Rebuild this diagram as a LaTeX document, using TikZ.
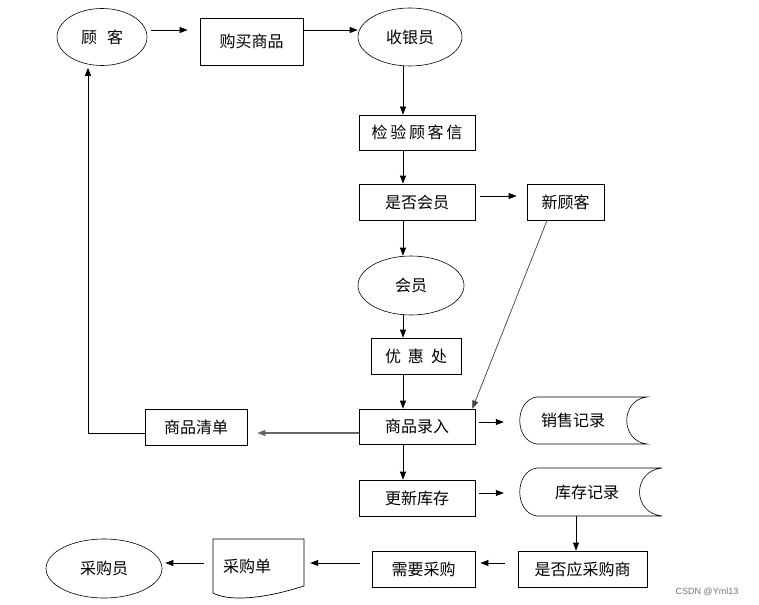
\documentclass[tikz,border=0pt]{standalone}
\usepackage{fontspec}
\setmainfont{Noto Sans CJK SC}
\newfontfamily\markfont{Liberation Sans}
\usetikzlibrary{shapes.geometric,arrows.meta}

\begin{document}
\begin{tikzpicture}[x=1pt, y=-1pt,
    font=\fontsize{16}{19}\selectfont,
    box/.style={draw, rectangle, inner sep=0pt, line width=0.7pt},
    oval/.style={draw, ellipse, inner sep=0pt, line width=0.6pt},
    flow/.style={-{Triangle[length=8pt,width=6pt]}, line width=0.7pt}]
    \useasboundingbox (0,0) rectangle (759,604);

    \node[oval, minimum width=90pt, minimum height=57pt] (guke) at (102,37) {顾\hspace{10pt}客};
    \node[box, minimum width=103pt, minimum height=47pt] (goumai) at (251.5,41.5) {购买商品};
    \node[oval, minimum width=104pt, minimum height=58pt] (shouyin) at (410,37) {收银员};
    \node[box, minimum width=116pt, minimum height=35pt] (jianyan) at (417,132.5) {检\,验\,顾\,客\,信};
    \node[box, minimum width=116pt, minimum height=36pt] (shifou) at (417,202) {是否会员};
    \node[box, minimum width=77pt, minimum height=36pt] (xinke) at (565.5,202) {新顾客};
    \node[oval, minimum width=106pt, minimum height=59pt] (huiyuan) at (411,285.5) {会员};
    \node[box, minimum width=90pt, minimum height=36pt] (youhui) at (416,356) {优\hspace{7pt}惠\hspace{7pt}处};
    \node[box, minimum width=116pt, minimum height=35pt] (luru) at (417,426.5) {商品录入};
    \node[box, minimum width=102pt, minimum height=36pt] (qingdan) at (196,427) {商品清单};
    \node[minimum width=106pt, minimum height=47pt, inner sep=0pt] (xiaoshou) at (573,420.5) {销售记录};
    \node[box, minimum width=116pt, minimum height=36pt] (gengxin) at (417,498) {更新库存};
    \node[minimum width=134pt, minimum height=48pt, inner sep=0pt] (kucun) at (587,492) {库存记录};
    \node[box, minimum width=129pt, minimum height=36pt] (yingcai) at (582.5,569) {是否应采购商};
    \node[box, minimum width=103pt, minimum height=36pt] (xuyao) at (423.5,569) {需要采购};
    \node[text width=71pt, inner xsep=10pt, inner ysep=0pt, minimum height=54pt, align=left] (caidan) at (258.5,566) {采购单};
    \node[oval, minimum width=116pt, minimum height=59pt] (caiyuan) at (104,568.5) {采购员};
    \node[font=\markfont\fontsize{9}{11}\selectfont, text=black!55] (mark) at (707,592) {CSDN @Yml13};

    % record and document outlines
    \draw[line width=0.6pt] (537,397) -- (647,397) .. controls (620,400) and (620,441) .. (647,444)
        -- (537,444) .. controls (514,441) and (514,400) .. (537,397);
    \draw[line width=0.6pt] (537,468) -- (662,468) .. controls (632,471) and (632,513) .. (662,516)
        -- (537,516) .. controls (514,513) and (514,471) .. (537,468);
    \draw[line width=0.7pt] (213,539) -- (304,539) -- (304,586) .. controls (260,600) and (228,601) .. (213,593) -- cycle;

    \coordinate (toprow) at (0,30);
    \coordinate (col) at (403,0);
    \coordinate (stockcol) at (576,0);
    \coordinate (botrow) at (0,563);

    \draw[flow, shorten <=4pt, shorten >=12pt] (guke.east |- toprow) -- (goumai.west |- toprow);
    \draw[flow] (goumai.east |- toprow) -- (shouyin.west |- toprow);
    \foreach \a/\b in {shouyin/jianyan, jianyan/shifou, shifou/huiyuan, huiyuan/youhui, youhui/luru, luru/gengxin}
        \draw[flow] (col |- \a.south) -- (col |- \b.north);
    \draw[flow, shorten <=5pt, shorten >=10pt] ([yshift=6pt]shifou.east) -- ([yshift=6pt]xinke.west);
    \draw[flow, draw=black!75] ([xshift=-18.5pt]xinke.south) -- ([xshift=-3pt]luru.north east);
    \draw[flow, shorten <=4pt, shorten >=16pt] ([yshift=4.5pt]luru.east) -- ([yshift=4.5pt]luru.east -| xiaoshou.west);
    \draw[flow, shorten <=4pt, shorten >=16pt] ([yshift=5pt]gengxin.east) -- ([yshift=5pt]gengxin.east -| kucun.west);
    \draw[flow, line width=1.2pt, draw=black!60, shorten >=10pt] ([yshift=-6.5pt]luru.west) -- ([yshift=-6.5pt]luru.west -| qingdan.east);
    \draw[flow, line width=1pt, shorten >=2pt] ([yshift=-6pt]qingdan.west) -| ([xshift=-14pt]guke.south);
    \draw[flow] (stockcol |- kucun.south) -- (stockcol |- yingcai.north);
    \draw[flow, shorten <=13pt, shorten >=5pt] (yingcai.west |- botrow) -- (xuyao.east |- botrow);
    \draw[flow, shorten <=12pt, shorten >=6pt] (xuyao.west |- botrow) -- (caidan.east |- botrow);
    \draw[flow, shorten <=9pt, shorten >=3pt] (caidan.west |- botrow) -- (caiyuan.east |- botrow);
\end{tikzpicture}
\end{document}
